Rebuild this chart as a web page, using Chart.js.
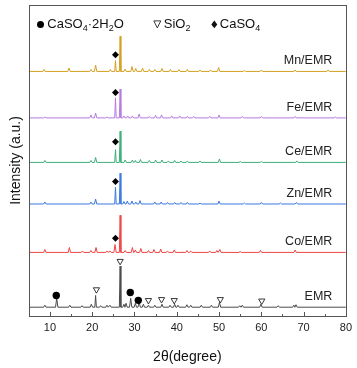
<!DOCTYPE html>
<html lang="en">
<head>
    <meta charset="UTF-8">
    <title>XRD patterns</title>
    <style>
        body {
            margin: 0;
            padding: 0;
            background: #fff;
        }
        #xrd-chart {
            display: block;
        }
    </style>
</head>
<body>
    <canvas id="xrd-chart" width="357" height="368"></canvas>

    <script src="https://cdn.jsdelivr.net/npm/chart.js"></script>
    <script>
        // sample names and where each pattern sits on the stacked intensity axis
        const samples = ['EMR', 'Co/EMR', 'Zn/EMR', 'Ce/EMR', 'Fe/EMR', 'Mn/EMR'];
        const baselines = [9, 65, 114.5, 157, 202.5, 250];

        // peaks: [2theta, height above baseline]
        const emrPeaks = [[8.8, 2], [11.6, 9], [14.7, 2], [17.6, 1.5], [19.8, 3], [20.8, 12], [22, 1.5], [23.5, 2],
            [24.2, 2], [26.6, 42], [27.5, 3], [28.0, 4], [29.1, 9], [30.2, 4], [31.1, 5], [32.1, 3], [33.3, 2],
            [34.8, 2], [36.5, 3], [38.4, 2], [39.5, 3], [40.3, 2], [42.4, 2.5], [43.3, 2], [45.8, 2], [48.2, 2],
            [50.1, 5], [54.9, 1.5], [55.5, 2], [59.9, 3], [64.0, 1.5], [67.7, 2], [68.2, 2.5]];
        const coPeaks = [[8.8, 3], [14.6, 5], [17.7, 1.5], [19.7, 2], [20.9, 5], [23.5, 1.5], [24.2, 1.5], [25.4, 8],
            [26.6, 38], [27.8, 2], [29.5, 5], [30.2, 2.5], [31.5, 4], [33.3, 2], [34.6, 3], [36.2, 3.5], [37.8, 1.5],
            [39.4, 2.5], [42.4, 2], [43.3, 1.5], [47.8, 1.5], [49.5, 2], [50.2, 3], [55, 1], [59.8, 2], [68.0, 2.5]];
        const znPeaks = [[8.8, 2], [19.7, 2], [20.8, 5], [25.5, 17], [26.6, 31.5], [27.5, 2.5], [28.3, 3], [29.4, 3],
            [30.3, 2], [31.3, 3.5], [34.8, 2], [36.3, 2], [37.8, 1.5], [39.5, 1.5], [41, 1.5], [42.5, 1.5], [45.5, 1],
            [50.0, 3], [56, 1], [60.0, 1.5], [64.5, 1], [68.3, 1.5]];
        const cePeaks = [[8.8, 2], [19.7, 2], [20.8, 5], [25.5, 13], [26.6, 32], [27.8, 2.5], [29.5, 2.5], [30.2, 2],
            [31.4, 3], [33.5, 2], [35.0, 2.5], [36.5, 2.5], [38.0, 1.5], [39.5, 2], [41, 1.5], [42.5, 1.5], [45.5, 1.5],
            [50.1, 3.5], [55, 1], [60, 1], [68.4, 1.5]];
        const fePeaks = [[8.8, 1], [19.7, 3], [20.8, 5], [23.5, 1], [25.5, 20.5], [26.6, 29.5], [27.5, 2], [28.4, 2],
            [29.5, 2], [31.1, 4], [33.5, 1.5], [35.0, 2.5], [36.4, 3], [38.8, 2], [40.7, 2], [42.5, 1.5], [44.0, 1.5],
            [47.8, 1.5], [50.0, 3], [55.5, 1.5], [60, 1.5], [68, 1.5], [77.5, 1]];
        const mnPeaks = [[8.6, 2], [14.5, 3.5], [19.7, 2], [20.8, 6.5], [24.3, 2], [25.5, 11], [26.6, 36], [27.8, 2.5],
            [29.4, 5], [30.3, 3], [31.9, 3.5], [33.5, 2], [34.8, 2], [36.5, 3], [38.5, 2], [40.5, 2], [42.5, 2],
            [45.5, 1.5], [48, 1.5], [49.9, 4], [56, 1], [60, 1.5], [68, 1.5], [75.8, 1.5]];
        const samplePeaks = [emrPeaks, coPeaks, znPeaks, cePeaks, fePeaks, mnPeaks];

        // phase markers: [2theta, level]
        const gypsumMarks = [[11.5, 21], [29.0, 24], [30.9, 16]];
        const quartzMarks = [[21.0, 27], [26.6, 56], [33.3, 16], [36.4, 17], [39.4, 16], [50.3, 17], [60.1, 15.5]];
        const anhydriteMarks = [[25.5, 79.5], [25.5, 137.5], [25.5, 178], [25.5, 228.5], [25.5, 267]];

        const xTicks = [10, 20, 30, 40, 50, 60, 70, 80];

        const lineColors = ['#4a4a4a', '#ef4545', '#3a78e0', '#3dae7a', '#b57be0', '#d4a020'];

        function buildTrace(base, peaks) {
            const pts = [{ x: 5, y: base }];
            peaks.forEach(([pos, h]) => {
                const w = h > 10 ? 0.18 : 0.28;
                pts.push({ x: pos - w, y: base });
                pts.push({ x: pos, y: base + h });
                pts.push({ x: pos + w, y: base });
            });
            pts.push({ x: 80, y: base });
            return pts;
        }

        function toPoints(marks) {
            return marks.map(([x, y]) => ({ x: x, y: y }));
        }

        const datasets = samples.map((name, i) => ({
            label: name,
            data: buildTrace(baselines[i], samplePeaks[i]),
            showLine: true,
            borderColor: lineColors[i],
            borderWidth: 1,
            pointRadius: 0,
            order: 2
        }));

        datasets.push({
            label: 'CaSO4·2H2O',
            data: toPoints(gypsumMarks),
            pointStyle: 'circle',
            pointRadius: 3.7,
            backgroundColor: '#000',
            borderColor: '#000',
            borderWidth: 0,
            order: 0
        });
        datasets.push({
            label: 'SiO2',
            data: toPoints(quartzMarks),
            pointStyle: 'triangle',
            pointRotation: 180,
            pointRadius: 3.6,
            backgroundColor: '#fff',
            borderColor: '#222',
            borderWidth: 0.9,
            order: 0
        });
        datasets.push({
            label: 'CaSO4',
            data: toPoints(anhydriteMarks),
            pointStyle: 'rectRot',
            pointRadius: 3.5,
            backgroundColor: '#000',
            borderColor: '#000',
            borderWidth: 0,
            order: 0
        });

        // draws frame, inward ticks, sample names and the phase key
        const decorations = {
            id: 'decorations',
            afterDraw(chart) {
                const ctx = chart.ctx;
                const area = chart.chartArea;
                const xs = chart.scales.x;
                const ys = chart.scales.y;
                ctx.save();

                ctx.strokeStyle = '#555';
                ctx.lineWidth = 1;
                ctx.strokeRect(Math.round(area.left) + 0.5, Math.round(area.top) + 0.5,
                    Math.round(area.right - area.left), Math.round(area.bottom - area.top));

                ctx.beginPath();
                xTicks.forEach(v => {
                    const px = Math.round(xs.getPixelForValue(v)) + 0.5;
                    ctx.moveTo(px, area.bottom);
                    ctx.lineTo(px, area.bottom - 4);
                    const mx = Math.round(xs.getPixelForValue(v - 5)) + 0.5;
                    ctx.moveTo(mx, area.bottom);
                    ctx.lineTo(mx, area.bottom - 2);
                });
                ctx.stroke();

                ctx.fillStyle = '#222';
                ctx.font = '12.5px "Liberation Sans", Arial, sans-serif';
                ctx.textAlign = 'right';
                ctx.textBaseline = 'middle';
                samples.forEach((name, i) => {
                    ctx.fillText(name, xs.getPixelForValue(76.8), ys.getPixelForValue(baselines[i] + 11));
                });

                // phase key
                const ky = area.top + 19.5;
                const kx = area.left;
                ctx.fillStyle = '#000';
                ctx.beginPath();
                ctx.arc(kx + 11.7, ky, 3.5, 0, Math.PI * 2);
                ctx.fill();
                drawChem(ctx, kx + 18.5, ky, [['CaSO', 0], ['4', 1], ['·2H', 0], ['2', 1], ['O', 0]]);

                ctx.strokeStyle = '#222';
                ctx.lineWidth = 0.9;
                ctx.beginPath();
                ctx.moveTo(kx + 125, ky - 3.5);
                ctx.lineTo(kx + 132, ky - 3.5);
                ctx.lineTo(kx + 128.5, ky + 3.5);
                ctx.closePath();
                ctx.stroke();
                drawChem(ctx, kx + 135, ky, [['SiO', 0], ['2', 1]]);

                ctx.beginPath();
                ctx.moveTo(kx + 185.5, ky - 3.8);
                ctx.lineTo(kx + 188.5, ky);
                ctx.lineTo(kx + 185.5, ky + 3.8);
                ctx.lineTo(kx + 182.5, ky);
                ctx.closePath();
                ctx.fill();
                drawChem(ctx, kx + 191, ky, [['CaSO', 0], ['4', 1]]);

                ctx.restore();
            }
        };

        function drawChem(ctx, x, y, parts) {
            ctx.textAlign = 'left';
            ctx.textBaseline = 'middle';
            ctx.fillStyle = '#111';
            parts.forEach(([text, sub]) => {
                ctx.font = sub ? '9px "Liberation Sans", Arial, sans-serif' : '13px "Liberation Sans", Arial, sans-serif';
                ctx.fillText(text, x, sub ? y + 4 : y);
                x += ctx.measureText(text).width;
            });
        }

        new Chart(document.getElementById('xrd-chart').getContext('2d'), {
            type: 'scatter',
            data: { datasets: datasets },
            options: {
                responsive: false,
                animation: false,
                devicePixelRatio: 1,
                layout: { padding: { left: 4, right: 9, top: 3, bottom: 0 } },
                plugins: {
                    legend: { display: false },
                    tooltip: { enabled: false }
                },
                scales: {
                    x: {
                        type: 'linear',
                        min: 5,
                        max: 80,
                        afterBuildTicks: scale => {
                            scale.ticks = xTicks.map(v => ({ value: v }));
                        },
                        grid: { display: false, drawTicks: false },
                        border: { display: false },
                        ticks: {
                            padding: 5,
                            color: '#222',
                            font: { family: '"Liberation Sans", Arial, sans-serif', size: 11 }
                        },
                        title: {
                            display: true,
                            text: '2θ(degree)',
                            color: '#111',
                            padding: { top: 10, bottom: 2 },
                            font: { family: '"Liberation Sans", Arial, sans-serif', size: 14 }
                        }
                    },
                    y: {
                        type: 'linear',
                        min: 0,
                        max: 318,
                        grid: { display: false, drawTicks: false },
                        border: { display: false },
                        ticks: { display: false },
                        title: {
                            display: true,
                            text: 'Intensity (a.u.)',
                            color: '#111',
                            padding: { top: 4, bottom: 4 },
                            font: { family: '"Liberation Sans", Arial, sans-serif', size: 14 }
                        }
                    }
                }
            },
            plugins: [decorations]
        });
    </script>
</body>
</html>
